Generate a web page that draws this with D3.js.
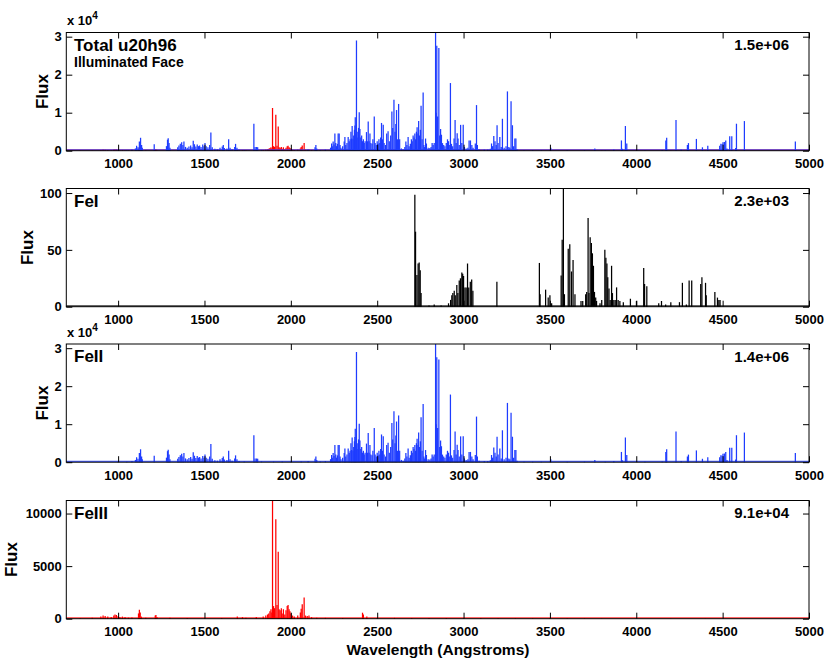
<!DOCTYPE html>
<html>
<head>
<meta charset="utf-8">
<script src="https://cdn.jsdelivr.net/npm/d3@7"></script>
<style>
  body { margin: 0; background: #fff; }
  text { font-family: "Liberation Sans", Arial, Helvetica, sans-serif; font-weight: bold; fill: #000; }
</style>
</head>
<body>
<svg id="chart" width="830" height="661"></svg>
<script>
// values: [wavelength (A), flux]
const waveTicks = [1000, 1500, 2000, 2500, 3000, 3500, 4000, 4500, 5000];
const panelNames = ["Total u20h96", "FeI", "FeII", "FeIII"];
const panelSub = "Illuminated Face";
const panelTotals = ["1.5e+06", "2.3e+03", "1.4e+06", "9.1e+04"];
const fluxTicks = [
  [0, 10000, 20000, 30000],
  [0, 50, 100],
  [0, 10000, 20000, 30000],
  [0, 5000, 10000]
];

const feILines = [
  [2718, 98.6], [2722, 66], [2730, 28], [2737, 38], [2743, 39], [2749, 32], [2754, 12],
  [2800, 1], [2830, 2], [2870, 1], [2913, 3], [2925, 6], [2932, 10], [2938, 12],
  [2946, 14], [2952, 10], [2961, 19], [2967, 12], [2975, 23], [2982, 25], [2990, 30],
  [2995, 29], [3000, 27], [3008, 17], [3015, 17], [3023, 38], [3030, 17], [3039, 22],
  [3047, 24], [3054, 14], [3193, 22], [3439, 38.5], [3443, 11], [3475, 15], [3490, 8],
  [3500, 10], [3510, 3], [3565, 27.5], [3571, 59], [3578, 104], [3584, 11], [3606, 51],
  [3615, 55], [3625, 31], [3634, 41], [3645, 11], [3680, 5], [3690, 5], [3707, 11],
  [3713, 13], [3721, 78], [3726, 12], [3733, 61], [3740, 56], [3746, 47], [3752, 36],
  [3758, 13], [3765, 8], [3770, 5], [3790, 3], [3800, 6], [3818, 50], [3824, 43],
  [3830, 38], [3835, 26], [3842, 16], [3849, 6], [3857, 36], [3862, 12], [3870, 6],
  [3878, 6], [3886, 17], [3895, 6], [3905, 5], [3925, 4], [3966, 7], [4001, 5],
  [4043, 34], [4048, 20], [4061, 18], [4130, 3], [4146, 5], [4170, 2], [4200, 4],
  [4250, 4], [4267, 21], [4290, 2], [4306, 23], [4321, 23], [4373, 20], [4380, 26],
  [4401, 21], [4405, 10], [4455, 13], [4470, 8], [4478, 6], [4485, 6]
];

const feIILines = [
  [1000, 100], [1050, 150], [1080, 300], [1100, 600], [1107, 1300], [1115, 900],
  [1123, 2400], [1130, 3400], [1136, 1500], [1140, 800], [1209, 1700], [1280, 1200],
  [1286, 2900], [1290, 3300], [1295, 2000], [1300, 800], [1345, 900], [1352, 1400],
  [1360, 1800], [1368, 2200], [1375, 1500], [1381, 2400], [1390, 1000], [1400, 800],
  [1410, 1100], [1420, 1400], [1428, 900], [1435, 2600], [1442, 1700], [1450, 1100],
  [1458, 1600], [1465, 1200], [1472, 1400], [1480, 1000], [1490, 1600], [1497, 1200],
  [1503, 2000], [1510, 1200], [1520, 900], [1530, 1500], [1537, 4800], [1545, 900],
  [1560, 500], [1575, 400], [1590, 800], [1603, 1100], [1609, 1500], [1615, 700],
  [1630, 600], [1640, 3000], [1648, 800], [1660, 400], [1675, 1000], [1680, 1800],
  [1688, 800], [1700, 300], [1730, 200], [1786, 7100], [1793, 1000], [1802, 1000],
  [1808, 900], [1830, 200], [1900, 150], [1950, 200], [2000, 150], [2060, 200],
  [2100, 300], [2140, 900], [2145, 1500], [2150, 600], [2170, 200], [2200, 300],
  [2230, 800], [2236, 1900], [2240, 1200], [2245, 2400], [2250, 1600], [2255, 4500],
  [2260, 2000], [2265, 1200], [2270, 1800], [2274, 4500], [2280, 4500], [2285, 1500],
  [2290, 800], [2300, 1200], [2309, 2400], [2313, 3600], [2318, 1500], [2325, 2000],
  [2332, 3600], [2338, 2500], [2343, 3000], [2348, 5000], [2352, 3200], [2355, 6500],
  [2360, 3000], [2364, 4000], [2368, 5500], [2371, 6600], [2373, 8800], [2377, 4500],
  [2380, 29000], [2384, 5000], [2388, 3500], [2392, 6000], [2396, 10100], [2400, 5700],
  [2405, 3500], [2410, 4000], [2415, 2500], [2420, 3000], [2425, 2000], [2430, 2500],
  [2438, 4900], [2443, 2500], [2448, 7700], [2453, 2500], [2458, 4500], [2463, 2000],
  [2470, 1800], [2475, 3000], [2483, 9000], [2488, 2000], [2495, 1500], [2500, 2500],
  [2505, 1800], [2510, 3000], [2515, 2000], [2520, 3500], [2525, 7300], [2530, 3000],
  [2535, 6800], [2540, 2000], [2548, 1500], [2555, 4500], [2563, 5100], [2570, 2500],
  [2578, 4000], [2585, 10300], [2590, 6000], [2597, 13400], [2603, 5000], [2608, 7000],
  [2612, 10700], [2617, 3000], [2624, 12300], [2630, 3000], [2640, 600], [2650, 400],
  [2660, 1000], [2666, 2400], [2672, 1500], [2679, 3600], [2685, 1200], [2692, 1800],
  [2698, 3000], [2703, 2500], [2708, 4000], [2713, 3500], [2718, 4500], [2722, 3000],
  [2727, 5000], [2731, 6200], [2736, 4500], [2740, 7800], [2745, 4000], [2750, 5500],
  [2754, 11800], [2760, 3000], [2766, 15300], [2770, 1500], [2775, 1000], [2780, 3200],
  [2785, 1900], [2795, 800], [2805, 700], [2812, 1000], [2818, 2000], [2824, 1500],
  [2830, 2000], [2838, 31100], [2842, 10000], [2845, 27600], [2850, 9000], [2857, 27000],
  [2862, 4000], [2867, 5700], [2872, 4200], [2878, 2000], [2885, 1500], [2892, 1200],
  [2900, 2000], [2907, 3000], [2913, 2500], [2920, 1500], [2924, 17800], [2930, 1800],
  [2937, 1200], [2945, 3200], [2951, 8100], [2957, 2000], [2963, 4600], [2968, 3200],
  [2975, 1500], [2983, 6800], [2990, 2000], [2998, 6800], [3005, 1000], [3015, 600],
  [3025, 800], [3032, 2700], [3040, 2700], [3048, 1500], [3055, 800], [3068, 1900],
  [3075, 12000], [3080, 1500], [3090, 400], [3120, 300], [3140, 300], [3155, 500],
  [3162, 1900], [3168, 1200], [3175, 3900], [3182, 2500], [3189, 1500], [3194, 6700],
  [3200, 2000], [3210, 3600], [3218, 1000], [3225, 8400], [3235, 800], [3246, 1200],
  [3254, 15600], [3262, 1000], [3268, 800], [3275, 13000], [3283, 6700], [3290, 1200],
  [3297, 3200], [3303, 3200], [3310, 400], [3350, 150], [3400, 150], [3450, 150],
  [3505, 800], [3600, 100], [3700, 150], [3760, 600], [3820, 100], [3870, 300],
  [3914, 2700], [3920, 500], [3937, 6500], [3945, 1900], [4050, 150], [4150, 200],
  [4171, 2700], [4176, 3400], [4230, 8100], [4260, 300], [4296, 1500], [4302, 2000],
  [4348, 3100], [4383, 900], [4414, 1300], [4483, 1300], [4490, 1800], [4497, 1700],
  [4502, 2200], [4510, 2300], [4518, 2700], [4525, 600], [4541, 3800], [4553, 3800],
  [4575, 700], [4580, 7100], [4626, 7800], [4921, 2400]
];

const feIIILines = [
  [780, 50], [850, 80], [900, 200], [913, 300], [925, 250], [940, 200], [960, 150],
  [975, 300], [982, 400], [990, 350], [1000, 250], [1010, 150], [1025, 200], [1040, 150],
  [1060, 100], [1080, 120], [1118, 500], [1123, 860], [1128, 600], [1135, 200],
  [1160, 100], [1215, 300], [1219, 350], [1225, 150], [1300, 80], [1400, 60], [1500, 50],
  [1600, 60], [1690, 200], [1720, 150], [1740, 100], [1800, 150], [1840, 200],
  [1855, 300], [1865, 400], [1872, 500], [1879, 700], [1885, 900], [1890, 600],
  [1894, 11240], [1900, 1200], [1906, 1000], [1913, 9460], [1920, 1300], [1927, 6370],
  [1932, 900], [1938, 800], [1945, 1000], [1950, 500], [1957, 900], [1965, 400],
  [1972, 800], [1979, 1200], [1984, 1300], [1990, 900], [1995, 700], [2000, 500],
  [2010, 300], [2020, 200], [2040, 300], [2055, 600], [2060, 950], [2066, 1370],
  [2077, 2010], [2085, 300], [2095, 250], [2105, 300], [2120, 150], [2150, 100],
  [2200, 80], [2300, 60], [2415, 570], [2420, 400], [2440, 200], [2500, 60], [2600, 80],
  [2700, 60], [2800, 70], [2900, 60], [3000, 50], [3100, 60], [3200, 50], [3300, 50],
  [3400, 40], [3500, 50], [3600, 40], [3700, 40], [3800, 30], [4000, 30], [4200, 30],
  [4400, 30]
];

// layout
const blue = "#1e3cff", red = "#ff0000", black = "#000000";
const panelTop = [32.5, 188.5, 344, 500.5];
const panelH = 118.2;
const fluxLabelX = [42, 27, 42, 11];
const panelSeries = [
  [[feIIILines, red], [feIILines, blue]],
  [[feILines, black]],
  [[feIILines, blue]],
  [[feIIILines, red]]
];
const useExp = [true, false, true, false];

const svg = d3.select("#chart");
const x = d3.scaleLinear().domain([700, 5000]).range([66.3, 809]);

panelSeries.forEach(function (series, i) {
  const top = panelTop[i];
  const bottom = top + panelH;
  const ymax = d3.max(series, s => d3.max(s[0], d => d[1]));
  const y = d3.scaleLinear().domain([0, ymax]).range([bottom, top]);

  const g = svg.append("g");

  // spectrum sticks
  series.forEach(function (s) {
    const color = s[1];
    g.append("line")
      .attr("x1", x(700)).attr("x2", x(5000))
      .attr("y1", y(0) - 0.8).attr("y2", y(0) - 0.8)
      .attr("stroke", color)
      .attr("stroke-width", 1.1)
      .attr("opacity", 0.8);
    g.selectAll(null)
      .data(s[0])
      .enter()
      .append("line")
      .attr("x1", d => x(d[0]))
      .attr("x2", d => x(d[0]))
      .attr("y1", y(0))
      .attr("y2", d => y(d[1]))
      .attr("stroke", color)
      .attr("stroke-width", 1.25);
  });

  // frame
  g.append("rect")
    .attr("x", x(700)).attr("y", top)
    .attr("width", x(5000) - x(700)).attr("height", panelH)
    .attr("fill", "none")
    .attr("stroke", "#000")
    .attr("stroke-width", 1);

  // axes with inward ticks
  const bottomAxis = g.append("g")
    .attr("transform", `translate(0,${bottom})`)
    .call(d3.axisBottom(x).tickValues(waveTicks).tickSize(-6).tickPadding(8.5).tickFormat(d3.format("d")));
  const topAxis = g.append("g")
    .attr("transform", `translate(0,${top})`)
    .call(d3.axisTop(x).tickValues(waveTicks).tickSize(-6).tickFormat(""));
  const leftAxis = g.append("g")
    .attr("transform", `translate(${x(700)},0)`)
    .call(d3.axisLeft(y).tickValues(fluxTicks[i]).tickSize(-6).tickPadding(4.5)
      .tickFormat(d => useExp[i] ? d / 10000 : d));
  const rightAxis = g.append("g")
    .attr("transform", `translate(${x(5000)},0)`)
    .call(d3.axisRight(y).tickValues(fluxTicks[i]).tickSize(-6).tickFormat(""));

  [bottomAxis, topAxis, leftAxis, rightAxis].forEach(function (a) {
    a.select(".domain").remove();
    a.selectAll(".tick line").attr("stroke", "#000");
    a.selectAll("text")
      .style("font-size", "13px")
      .style("font-weight", "bold")
      .attr("fill", "#000");
  });

  // labels
  svg.append("text")
    .attr("transform", `translate(${fluxLabelX[i]},${top + panelH / 2}) rotate(-90)`)
    .attr("text-anchor", "middle")
    .attr("dy", "0.35em")
    .style("font-size", "17px")
    .text("Flux");

  svg.append("text")
    .attr("x", 74)
    .attr("y", top + 18)
    .style("font-size", "17px")
    .text(panelNames[i]);

  if (i === 0) {
    svg.append("text")
      .attr("x", 74)
      .attr("y", top + 34.5)
      .style("font-size", "14px")
      .text(panelSub);
  }

  svg.append("text")
    .attr("x", 789)
    .attr("y", top + 17.6)
    .attr("text-anchor", "end")
    .style("font-size", "15px")
    .text(panelTotals[i]);

  if (useExp[i]) {
    const t = svg.append("text")
      .attr("x", 67)
      .attr("y", top - 7.5)
      .style("font-size", "13px");
    t.append("tspan").text("x 10");
    t.append("tspan").attr("dy", -6).style("font-size", "10px").text("4");
  }
});

svg.append("text")
  .attr("x", 438)
  .attr("y", 655)
  .attr("text-anchor", "middle")
  .style("font-size", "15.5px")
  .text("Wavelength (Angstroms)");
</script>
</body>
</html>
